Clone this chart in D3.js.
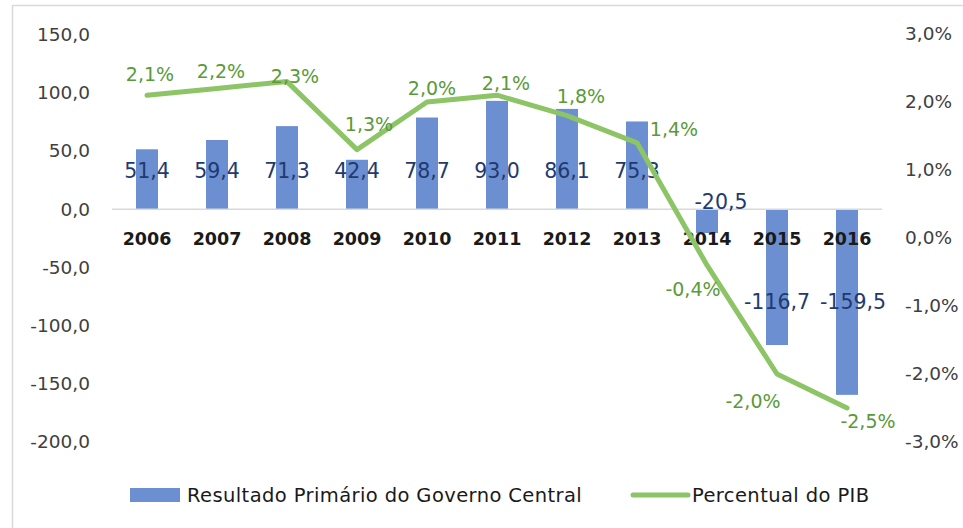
<!DOCTYPE html>
<html>
<head>
<meta charset="utf-8">
<script src="https://cdn.jsdelivr.net/npm/d3@7"></script>
<style>
  body { margin: 0; background: #fff; }
  svg { font-family: "DejaVu Sans", sans-serif; }
</style>
</head>
<body>
<svg id="chart" width="963" height="528"></svg>
<script>
const years = ["2006", "2007", "2008", "2009", "2010", "2011", "2012", "2013", "2014", "2015", "2016"];
const resultado = [51.4, 59.4, 71.3, 42.4, 78.7, 93.0, 86.1, 75.3, -20.5, -116.7, -159.5];
const pctPIB = [2.1, 2.2, 2.3, 1.3, 2.0, 2.1, 1.8, 1.4, -0.4, -2.0, -2.5];
const leftTicks = [150, 100, 50, 0, -50, -100, -150, -200];
const rightTicks = [3, 2, 1, 0, -1, -2, -3];

// label nudges (px) for the line labels, as placed in the original
const pctNudge = [[3, -21], [4, -17], [8, -6], [12, -26], [5, -14], [9, -12], [14, -20], [37, -14], [-14, 24], [-24, 27], [21, 13]];

const ptBR = d3.formatLocale({ decimal: ",", thousands: ".", grouping: [3], currency: ["R$", ""], minus: "-" });
const f1 = ptBR.format(".1f");

const svg = d3.select("#chart");

// border of the chart area
svg.append("path")
  .attr("d", "M12.5,528V5.5H963")
  .attr("fill", "none")
  .attr("stroke", "#d9d9d9")
  .attr("stroke-width", 1.5);

const x = d3.scaleBand()
  .domain(years)
  .range([112, 882])
  .paddingInner(0.686)
  .paddingOuter(0.343);

const yL = d3.scaleLinear().domain([-200, 150]).range([442, 34.5]);
const yR = d3.scaleLinear().domain([-3, 3]).range([442, 34]);

// left axis
svg.append("g")
  .attr("transform", "translate(90,0)")
  .call(d3.axisLeft(yL).tickValues(leftTicks).tickSize(0).tickPadding(0).tickFormat(f1))
  .call(g => g.select(".domain").remove())
  .selectAll("text")
  .attr("font-family", "DejaVu Sans")
  .attr("font-size", 18.5)
  .attr("fill", "#404040");

// right axis
svg.append("g")
  .attr("transform", "translate(905,0)")
  .call(d3.axisRight(yR).tickValues(rightTicks).tickSize(0).tickPadding(0).tickFormat(d => f1(d) + "%"))
  .call(g => g.select(".domain").remove())
  .selectAll("text")
  .attr("font-family", "DejaVu Sans")
  .attr("font-size", 18.5)
  .attr("fill", "#404040");

// bars
svg.append("g")
  .selectAll("rect")
  .data(resultado)
  .join("rect")
  .attr("x", (_, i) => x(years[i]))
  .attr("y", d => yL(Math.max(0, d)))
  .attr("width", x.bandwidth())
  .attr("height", d => Math.abs(yL(d) - yL(0)))
  .attr("fill", "#6b8fd1");

// zero line
svg.append("line")
  .attr("x1", x.range()[0])
  .attr("x2", x.range()[1])
  .attr("y1", yL(0))
  .attr("y2", yL(0))
  .attr("stroke", "#d9d9d9")
  .attr("stroke-width", 1.5);

// year labels
svg.append("g")
  .selectAll("text")
  .data(years)
  .join("text")
  .attr("x", d => x(d) + x.bandwidth() / 2)
  .attr("y", yL(0) + 30)
  .attr("text-anchor", "middle")
  .attr("dominant-baseline", "central")
  .attr("font-size", 17.5)
  .attr("font-weight", "bold")
  .attr("fill", "#1a1a1a")
  .text(d => d);

// bar value labels
svg.append("g")
  .selectAll("text")
  .data(resultado)
  .join("text")
  .attr("x", (d, i) => x(years[i]) + x.bandwidth() / 2 + (d < 0 && d > -50 ? 14 : d < -150 ? 6 : 0))
  .attr("y", d => d > 0 ? yL(0) - 38 : d > -50 ? yL(0) - 7 : yL(-80))
  .attr("text-anchor", "middle")
  .attr("dominant-baseline", "central")
  .attr("font-size", 20.5)
  .attr("fill", "#1f3a6f")
  .text(d => f1(d));

// percentual line
const line = d3.line()
  .x((_, i) => x(years[i]) + x.bandwidth() / 2)
  .y(d => yR(d));

svg.append("path")
  .datum(pctPIB)
  .attr("d", line)
  .attr("fill", "none")
  .attr("stroke", "#8cc466")
  .attr("stroke-width", 5)
  .attr("stroke-linejoin", "round")
  .attr("stroke-linecap", "round");

svg.append("g")
  .selectAll("text")
  .data(pctPIB)
  .join("text")
  .attr("x", (_, i) => x(years[i]) + x.bandwidth() / 2 + pctNudge[i][0])
  .attr("y", (d, i) => yR(d) + pctNudge[i][1])
  .attr("text-anchor", "middle")
  .attr("dominant-baseline", "central")
  .attr("font-size", 19)
  .attr("fill", "#5a9a38")
  .text(d => f1(d) + "%");

// legend
const legend = svg.append("g").attr("font-size", 19.5).attr("letter-spacing", 0.4).attr("fill", "#1a1a1a");
legend.append("rect")
  .attr("x", 130).attr("y", 488)
  .attr("width", 50).attr("height", 14)
  .attr("fill", "#6b8fd1");
legend.append("text")
  .attr("x", 187).attr("y", 495)
  .attr("dominant-baseline", "central")
  .text("Resultado Primário do Governo Central");
legend.append("line")
  .attr("x1", 633).attr("x2", 688)
  .attr("y1", 495).attr("y2", 495)
  .attr("stroke", "#8cc466")
  .attr("stroke-width", 5)
  .attr("stroke-linecap", "round");
legend.append("text")
  .attr("x", 692).attr("y", 495)
  .attr("dominant-baseline", "central")
  .text("Percentual do PIB");
</script>
</body>
</html>
